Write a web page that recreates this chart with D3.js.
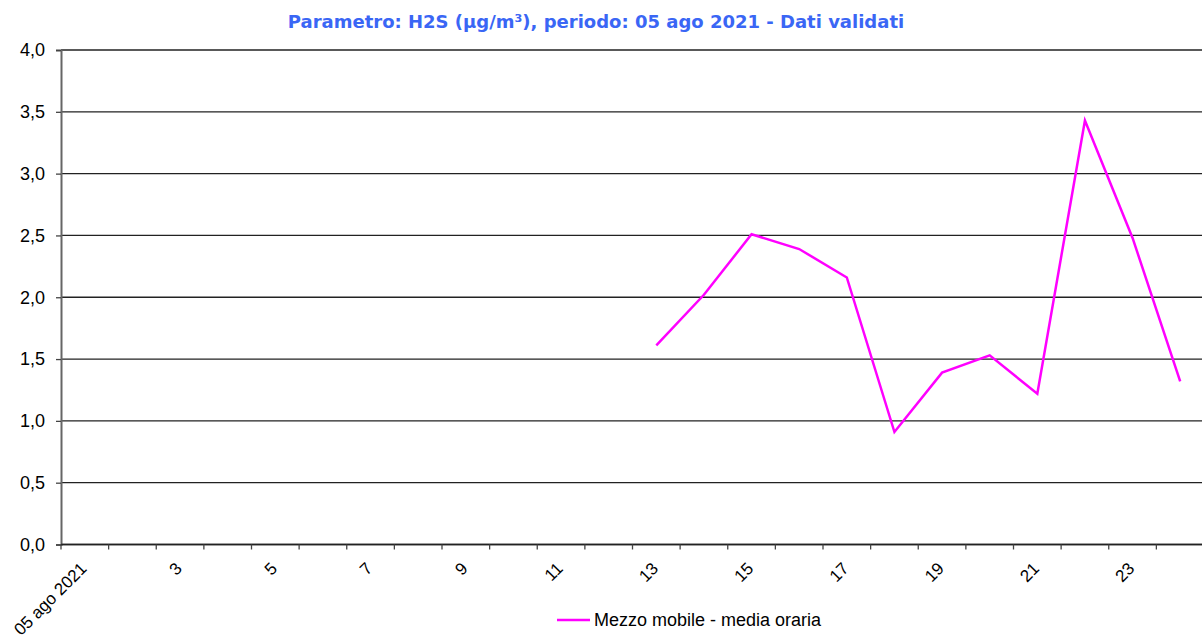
<!DOCTYPE html>
<html>
<head>
<meta charset="utf-8">
<script src="https://cdn.jsdelivr.net/npm/d3@7"></script>
<style>
  body { margin: 0; background: #fff; }
  .tick text { font-family: "Liberation Sans", Arial, sans-serif; font-size: 18px; fill: #000; }
  .chart-title { font-family: "DejaVu Sans", Verdana, sans-serif; font-weight: bold; font-size: 18px; fill: #3a66f5; }
  .legend-text { font-family: "Liberation Sans", Arial, sans-serif; font-size: 18px; fill: #000; }
</style>
</head>
<body>
<div id="chart"></div>
<script>
// hours of the day (1..24) and the hourly moving average
const hours = d3.range(1, 25);
const tickLabels = ["05 ago 2021", "3", "5", "7", "9", "11", "13", "15", "17", "19", "21", "23"];
const values = [null, null, null, null, null, null, null, null, null, null, null, null,
    1.61, 2.02, 2.51, 2.39, 2.16, 0.91, 1.39, 1.53, 1.22, 3.43, 2.48, 1.32];
const yTicks = [0, 0.5, 1, 1.5, 2, 2.5, 3, 3.5, 4];

const width = 1202, height = 638;
const margin = { top: 50, left: 61 };
const innerW = 1143;
const innerH = 494.5;

const svg = d3.select("#chart").append("svg")
    .attr("width", width)
    .attr("height", height);

svg.append("text")
    .attr("class", "chart-title")
    .attr("x", 596)
    .attr("y", 28)
    .attr("text-anchor", "middle")
    .text("Parametro: H2S (µg/m³), periodo: 05 ago 2021 - Dati validati");

const g = svg.append("g")
    .attr("transform", `translate(${margin.left}, ${margin.top})`);

const x = d3.scaleBand()
    .domain(hours)
    .range([0, innerW]);

const y = d3.scaleLinear()
    .domain([0, 4])
    .range([innerH, 0]);

// horizontal gridlines
g.append("g")
    .selectAll("line")
    .data(yTicks)
    .enter()
    .append("line")
    .attr("x1", 0)
    .attr("x2", innerW)
    .attr("y1", d => y(d))
    .attr("y2", d => y(d))
    .attr("stroke", "#222")
    .attr("stroke-width", 1.3);

// y axis
const yAxis = g.append("g")
    .call(d3.axisLeft(y)
        .tickValues(yTicks)
        .tickSize(5)
        .tickPadding(11)
        .tickFormat(d => d3.format(".1f")(d).replace(".", ",")));
yAxis.select(".domain").attr("stroke", "#666").attr("stroke-width", 2);
yAxis.selectAll(".tick line").attr("stroke", "#444").attr("stroke-width", 1.3);

// x axis: ticks at band boundaries, labels at band centres
const xAxis = g.append("g")
    .attr("transform", `translate(0, ${innerH})`);
xAxis.append("line")
    .attr("x1", 0).attr("x2", innerW)
    .attr("stroke", "#222").attr("stroke-width", 1.3);
xAxis.selectAll(".xtick")
    .data(hours)
    .enter()
    .append("line")
    .attr("x1", d => x(d))
    .attr("x2", d => x(d))
    .attr("y1", 0)
    .attr("y2", 5)
    .attr("stroke", "#444")
    .attr("stroke-width", 1.3);
xAxis.selectAll(".xlabel")
    .data(tickLabels)
    .enter()
    .append("text")
    .attr("transform", (d, i) => `translate(${x(hours[i * 2]) + x.bandwidth() / 2 + 3}, 25) rotate(-45)`)
    .attr("text-anchor", "end")
    .style("font-family", "'Liberation Sans', Arial, sans-serif")
    .style("font-size", "17px")
    .text(d => d);

// line
const line = d3.line()
    .defined(d => d.v !== null)
    .x(d => x(d.h) + x.bandwidth() / 2)
    .y(d => y(d.v));

g.append("path")
    .datum(hours.map((h, i) => ({ h: h, v: values[i] })))
    .attr("fill", "none")
    .attr("stroke", "#ff00ff")
    .attr("stroke-width", 2.5)
    .attr("d", line);

// legend
const legend = svg.append("g")
    .attr("transform", "translate(557, 620)");
legend.append("line")
    .attr("x1", 0).attr("x2", 33)
    .attr("stroke", "#ff00ff")
    .attr("stroke-width", 2.5);
legend.append("text")
    .attr("class", "legend-text")
    .attr("x", 37)
    .attr("y", 6)
    .text("Mezzo mobile - media oraria");
</script>
</body>
</html>
